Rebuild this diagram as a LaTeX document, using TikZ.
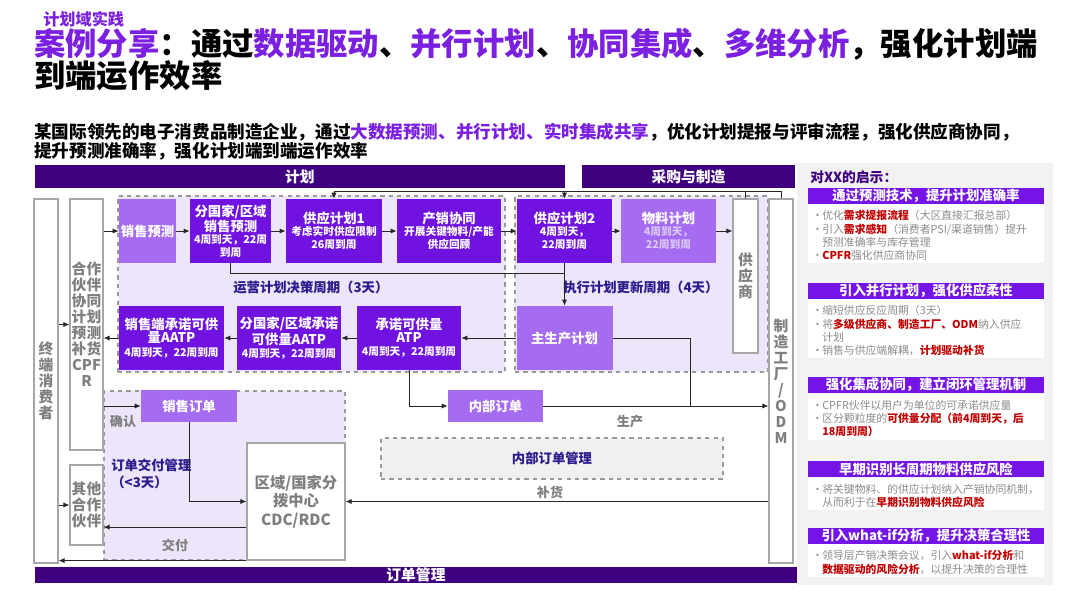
\documentclass[tikz,border=0pt]{standalone}
\usepackage{fontspec}
\setmainfont{Noto Sans CJK SC}
\usepackage{xcolor}
\usepackage{tikz}
\usetikzlibrary{arrows.meta,positioning}

\definecolor{barviolet}{HTML}{3F0080}
\definecolor{boxviolet}{HTML}{7012E0}
\definecolor{softviolet}{HTML}{A56CF2}
\definecolor{tipviolet}{HTML}{7414E6}
\definecolor{titleviolet}{HTML}{7B1FE0}
\definecolor{zonefill}{HTML}{EDE6FA}
\definecolor{labelblue}{HTML}{2B1B8C}
\definecolor{textgray}{HTML}{7F7F7F}
\definecolor{notegray}{HTML}{8C8C8C}
\definecolor{alertred}{HTML}{C00000}
\definecolor{panelgray}{HTML}{F2F2F2}
\definecolor{fadetext}{HTML}{DCC8F8}

\newcommand\keyvio[1]{\textcolor{titleviolet}{#1}}
\newcommand\keyred[1]{\textcolor{alertred}{\bfseries #1}}
\newcommand\boxtitle{\fontsize{9.5pt}{9.3pt}\selectfont\bfseries}
\newcommand\boxnote{\fontsize{7.6pt}{8.6pt}\selectfont\bfseries}
\newcommand\bul[1]{\par\noindent\hangindent=7.2pt\hangafter=1\makebox[7.2pt][l]{•}#1\par}
\newcommand\tightlines{\lineskiplimit=-20pt\relax}

\begin{document}
\begin{tikzpicture}[
    x=0.025cm, y=-0.025cm,
    wh/.style 2 args={minimum width=#1*0.025cm, minimum height=#2*0.025cm, text width=#1*0.025cm},
    hardbox/.style={fill=boxviolet, text=white, inner sep=0pt, align=center, font=\boxtitle},
    softbox/.style={fill=softviolet, text=white, inner sep=0pt, align=center, font=\boxtitle},
    column/.style={draw=black!35, line width=0.8pt, fill=white, text=textgray, inner sep=0pt,
        align=center, font=\fontsize{10.5pt}{11.4pt}\selectfont\bfseries},
    zone/.style={draw=black!40, dashed, line width=0.8pt, fill=zonefill, inner sep=0pt, align=center},
    bar/.style={fill=barviolet, text=white, inner sep=0pt, align=center,
        font=\fontsize{10.5pt}{11pt}\selectfont\bfseries},
    tag/.style={text=textgray, inner sep=0pt, font=\fontsize{9.3pt}{10pt}\selectfont\bfseries},
    period/.style={text=labelblue, inner sep=0pt, align=left, font=\fontsize{9.5pt}{11.5pt}\selectfont\bfseries},
    headline/.style={anchor=west, inner sep=0pt, font=\fontsize{22.3pt}{22pt}\selectfont\bfseries},
    lesson/.style={fill=tipviolet, text=white, inner sep=0pt, minimum width=5.9cm, minimum height=0.4cm,
        font=\fontsize{9.5pt}{10pt}\selectfont\bfseries},
    sheet/.style={fill=white, text=notegray, text width=5.69cm, inner xsep=3pt, inner ysep=2pt,
        align=left, font=\fontsize{7.7pt}{9.3pt}\selectfont},
    flow/.style={-{Latex[length=1.5mm, width=1.3mm]}, line width=0.7pt, draw=black!85},
    link/.style={line width=0.7pt, draw=black!85}
]
    \fill[white] (0,0) rectangle (1080,608);
    \useasboundingbox (0,0) rectangle (1080,608);

    \node[anchor=west, inner sep=0pt, text=titleviolet, font=\fontsize{11.5pt}{12pt}\selectfont\bfseries] (topic) at (43,19) {计划域实践};
    \node[headline] (title) at (34,44)
        {\keyvio{案例分享}：通过\keyvio{数据驱动}、\keyvio{并行计划}、\keyvio{协同集成}、\keyvio{多维分析}，强化计划端};
    \node[headline] (title2) at (34,76) {到端运作效率};
    \node[anchor=north west, inner sep=0pt, text width=26cm, align=left,
        font=\fontsize{12.5pt}{13.5pt}\selectfont\bfseries] (lead) at (34,123)
        {\tightlines 某国际领先的电子消费品制造企业，通过\keyvio{大数据预测、并行计划、实时集成共享}，优化计划提报与评审流程，强化供应商协同，\\提升预测准确率，强化计划端到端运作效率};

    \node[fill=panelgray, wh={246}{422}] (panel) at (925,374) {};
    \node[bar, wh={530}{23}] (plan) at (300,176.5) {计划};
    \node[bar, wh={213}{23}] (proc) at (688.5,176.5) {采购与制造};
    \node[bar, wh={762}{16}] (om) at (416,575) {订单管理};

    \node[zone, wh={387}{176}] (opszone) at (311.5,284) {};
    \node[zone, wh={253}{176}] (execzone) at (641.5,284) {};
    \node[zone, wh={241}{169}] (orderzone) at (224.5,475.5) {};
    \node[zone, fill=black!6, wh={342}{41}, text=labelblue, font=\fontsize{9.5pt}{10pt}\selectfont\bfseries] (iozone) at (552,458.5) {内部订单管理};

    \node[column, wh={24}{364}] (cons) at (46,381) {终\\端\\消\\费\\者};
    \node[column, wh={33}{251}] (cpfr) at (86.5,324.5) {合作\\伙伴\\协同\\计划\\预测\\补货\\CPF\\R};
    \node[column, wh={33}{80}] (other) at (86.5,505) {其他\\合作\\伙伴};
    \node[column, wh={25}{154}] (supp) at (745.5,276) {供\\应\\商};
    \node[column, wh={24}{364}] (mfg) at (781,381) {制\\造\\工\\厂\\/\\O\\D\\M};
    \node[column, wh={98}{117}, font=\fontsize{10.9pt}{13.2pt}\selectfont\bfseries] (cdc) at (296,501.5) {区域/国家分\\拨中心\\CDC/RDC};

    \node[softbox, wh={57}{64}] (fcst) at (147.5,231) {销售预测};
    \node[hardbox, wh={81}{64}] (cfcst) at (230.5,231) {分国家/区域\\销售预测\\\boxnote 4周到天，22周\\到周};
    \node[hardbox, wh={96}{64}] (sp1) at (334,231) {供应计划1\\\boxnote 考虑实时供应限制\\26周到周};
    \node[hardbox, wh={104}{64}] (sop) at (449,231) {产销协同\\\boxnote 开展关键物料/产能\\供应回顾};
    \node[hardbox, wh={95}{64}] (sp2) at (564.5,231) {供应计划2\\\boxnote 4周到天，\\22周到周};
    \node[softbox, wh={95}{64}] (mrp) at (668.5,231) {物料计划\\\boxnote\color{fadetext}4周到天，\\22周到周};
    \node[hardbox, wh={105}{64}] (saatp) at (171.5,338) {销售端承诺可供\\量AATP\\\boxnote 4周到天，22周到周};
    \node[hardbox, wh={104}{64}] (caatp) at (289,338) {分国家/区域承诺\\可供量AATP\\\boxnote 4周到天，22周到周};
    \node[hardbox, wh={104}{64}] (atp) at (409,338) {承诺可供量\\ATP\\\boxnote 4周到天，22周到周};
    \node[softbox, wh={96}{64}] (mps) at (564.5,338) {主生产计划};
    \node[softbox, wh={96}{32}] (so) at (189,406) {销售订单};
    \node[softbox, wh={95}{32}] (io) at (495.5,406) {内部订单};

    \node[period, anchor=west] (opslabel) at (233,287) {运营计划决策周期（3天）};
    \node[period, anchor=west] (execlabel) at (563,287) {执行计划更新周期（4天）};
    \node[period, anchor=north west, text width=2.6cm] (orderlabel) at (111,459) {订单交付管理\\（<3天）};

    \draw[flow] (mfg.north) -- ++(0,-7) -| (sp1.north);
    \draw[link] (supp.north) -- ++(0,-7);
    \draw[flow] (sp2.north) ++(0,-7) -- (sp2.north);
    \draw[flow] (cpfr.east |- fcst.west) -- (fcst.west);
    \draw[flow] (fcst) -- (cfcst);
    \draw[flow] (cfcst) -- (sp1);
    \draw[flow] (sp1) -- (sop);
    \draw[flow] (sop) -- (sp2);
    \draw[flow] (sp2) -- (mrp);
    \draw[flow] (mrp.east) -- (mrp.east -| supp.west);
    \coordinate (relay) at (564.5,273);
    \draw[link] (cfcst.south) |- (relay);
    \draw[flow] (sp2) -- (mps);
    \draw[flow] (mps) -- (atp);
    \draw[flow] (atp) -- (caatp);
    \draw[flow] (caatp) -- (saatp);
    \draw[flow] (saatp.west) -- (saatp.west -| cpfr.east);
    \coordinate (prodjoint) at (690,406);
    \draw[link] (mps.east) -| (prodjoint);
    \draw[flow] (atp.south) |- (io.west);
    \draw[flow] (io.east) -- (io.east -| mfg.west);
    \node[tag] (prodtag) at (630,422) {生产};
    \draw[flow] (cons.east |- cpfr.west) -- (cpfr.west);
    \draw[flow] (cons.east |- other.west) -- (other.west);
    \draw[flow] (cpfr.east |- so.west) -- (so.west);
    \node[tag] (oktag) at (123,422) {确认};
    \draw[flow] (so.south) |- (cdc.west);
    \coordinate (handover) at ([yshift=-6.4mm]cdc.west);
    \draw[flow] (handover) -- (handover -| other.east);
    \node[tag] (shiptag) at (175,545) {交付};
    \draw[flow] (cdc.south west) -- (cdc.south west -| cons.east);
    \draw[flow] (mfg.west |- cdc.east) -- (cdc.east);
    \node[tag] (refilltag) at (550,492) {补货};

    \node[anchor=west, inner sep=0pt, text=barviolet, font=\fontsize{9.8pt}{10pt}\selectfont\bfseries] (lessons) at (810,177) {对XX的启示：};
    \node[lesson] (h1) at (926,195.5) {通过预测技术，提升计划准确率};
    \node[sheet, below=0pt of h1] (s1) {\bul{优化\keyred{需求提报流程}（大区直接汇报总部）}\bul{引入\keyred{需求感知}（消费者PSI/渠道销售）提升\newline 预测准确率与库存管理}\bul{\keyred{CPFR}强化供应商协同}};
    \node[lesson] (h2) at (926,290.5) {引入并行计划，强化供应柔性};
    \node[sheet, below=0pt of h2] (s2) {\bul{缩短供应反应周期（3天）}\bul{将\keyred{多级供应商、制造工厂、ODM}纳入供应\newline 计划}\bul{销售与供应端解耦，\keyred{计划驱动补货}}};
    \node[lesson] (h3) at (926,385) {强化集成协同，建立闭环管理机制};
    \node[sheet, below=0pt of h3] (s3) {\bul{CPFR伙伴以用户为单位的可承诺供应量}\bul{区分颗粒度的\keyred{可供量分配（前4周到天，后\newline 18周到周）}}};
    \node[lesson] (h4) at (926,469) {早期识别长周期物料供应风险};
    \node[sheet, below=0pt of h4] (s4) {\bul{将关键物料、的供应计划纳入产销协同机制，\newline 从而利于在\keyred{早期识别物料供应风险}}};
    \node[lesson] (h5) at (926,535.5) {引入what-if分析，提升决策合理性};
    \node[sheet, below=0pt of h5] (s5) {\bul{领导层产销决策会议，引入\keyred{what-if分析}和\newline \keyred{数据驱动的风险分析}，以提升决策的合理性}};
\end{tikzpicture}
\end{document}
